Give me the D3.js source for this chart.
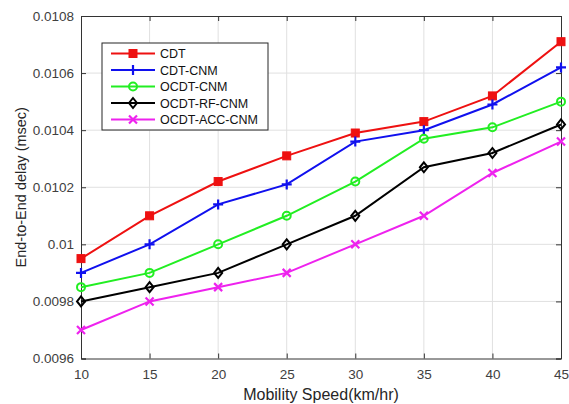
<!DOCTYPE html>
<html><head><meta charset="utf-8">
<script src="https://cdn.jsdelivr.net/npm/d3@7"></script>
<style>body{margin:0;background:#fff;} text{font-family:"Liberation Sans",Arial,sans-serif;}</style>
</head><body><svg id="c" width="569" height="404"></svg>
<script>
const speeds = [10,15,20,25,30,35,40,45];
const cdt      = [0.00995,0.0101,0.01022,0.01031,0.01039,0.01043,0.01052,0.01071];
const cdtCnm   = [0.0099,0.0100,0.01014,0.01021,0.01036,0.0104,0.01049,0.01062];
const ocdtCnm  = [0.00985,0.0099,0.0100,0.0101,0.01022,0.01037,0.01041,0.0105];
const ocdtRf   = [0.0098,0.00985,0.0099,0.0100,0.0101,0.01027,0.01032,0.01042];
const ocdtAcc  = [0.0097,0.0098,0.00985,0.0099,0.0100,0.0101,0.01025,0.01036];
const seriesNames = ["CDT","CDT-CNM","OCDT-CNM","OCDT-RF-CNM","OCDT-ACC-CNM"];
const yTicks = [0.0096,0.0098,0.01,0.0102,0.0104,0.0106,0.0108];
const yTickLabels = ["0.0096","0.0098","0.01","0.0102","0.0104","0.0106","0.0108"];

const series = [
  {name:seriesNames[0], values:cdt, color:"#ee1111", marker:"square"},
  {name:seriesNames[1], values:cdtCnm, color:"#1010ee", marker:"plus"},
  {name:seriesNames[2], values:ocdtCnm, color:"#22ee22", marker:"circle"},
  {name:seriesNames[3], values:ocdtRf, color:"#000000", marker:"diamond"},
  {name:seriesNames[4], values:ocdtAcc, color:"#ee22ee", marker:"cross"}
];

const L=81, R=561, T=16, B=358.5;
const svg = d3.select("#c");
const x = d3.scaleLinear().domain([10,45]).range([L,R]);
const y = d3.scaleLinear().domain([0.0096,0.0108]).range([B,T]);

// grid
const g = svg.append("g");
g.selectAll(".gx").data(speeds.slice(1,-1)).enter().append("line")
  .attr("x1",d=>x(d)).attr("x2",d=>x(d)).attr("y1",T).attr("y2",B)
  .attr("stroke","#e0e0e0").attr("stroke-width",1);
g.selectAll(".gy").data(yTicks.slice(1,-1)).enter().append("line")
  .attr("x1",L).attr("x2",R).attr("y1",d=>y(d)).attr("y2",d=>y(d))
  .attr("stroke","#e0e0e0").attr("stroke-width",1);

// axes
const axCol="#333";
const xAxis = d3.axisBottom(x).tickValues(speeds).tickSize(-5).tickPadding(11).tickFormat(d3.format("d"));
const yAxis = d3.axisLeft(y).tickValues(yTicks).tickSize(-5).tickPadding(7).tickFormat((d,i)=>yTickLabels[i]);
svg.append("g").attr("transform",`translate(0,${B})`).call(xAxis);
svg.append("g").attr("transform",`translate(${L},0)`).call(yAxis);
svg.append("g").attr("transform",`translate(0,${T})`).call(d3.axisTop(x).tickValues(speeds).tickSize(-5).tickFormat(""));
svg.append("g").attr("transform",`translate(${R},0)`).call(d3.axisRight(y).tickValues(yTicks).tickSize(-5).tickFormat(""));
svg.selectAll(".domain").attr("stroke",axCol);
svg.selectAll(".tick line").attr("stroke",axCol);
svg.selectAll(".tick text").attr("font-size","13.5px").attr("fill","#404040").attr("font-family","Liberation Sans, Arial, sans-serif");

// axis titles
svg.append("text").attr("x",(L+R)/2).attr("y",399.5).attr("text-anchor","middle")
  .attr("font-size","16px").attr("fill","#262626").text("Mobility Speed(km/hr)");
svg.append("text").attr("transform",`translate(26,${(T+B)/2}) rotate(-90)`).attr("text-anchor","middle")
  .attr("font-size","14.5px").attr("fill","#262626").text("End-to-End delay (msec)");

function drawMarker(sel, type, color, cx, cy){
  const s=4;
  if(type==="square") sel.append("rect").attr("x",cx-s).attr("y",cy-s).attr("width",2*s).attr("height",2*s).attr("fill",color).attr("stroke",color);
  else if(type==="plus") sel.append("path").attr("d",`M${cx-s-1},${cy}H${cx+s+1}M${cx},${cy-s-1}V${cy+s+1}`).attr("stroke",color).attr("stroke-width",2.2).attr("fill","none");
  else if(type==="circle") sel.append("circle").attr("cx",cx).attr("cy",cy).attr("r",s).attr("fill","none").attr("stroke",color).attr("stroke-width",2);
  else if(type==="diamond") sel.append("path").attr("d",`M${cx},${cy-s-1}L${cx+s},${cy}L${cx},${cy+s+1}L${cx-s},${cy}Z`).attr("fill","none").attr("stroke",color).attr("stroke-width",2);
  else if(type==="cross") sel.append("path").attr("d",`M${cx-s},${cy-s}L${cx+s},${cy+s}M${cx-s},${cy+s}L${cx+s},${cy-s}`).attr("stroke",color).attr("stroke-width",2.2).attr("fill","none");
}

const line = d3.line().x((d,i)=>x(speeds[i])).y(d=>y(d));
series.forEach(s=>{
  const sg = svg.append("g");
  sg.append("path").datum(s.values).attr("d",line).attr("fill","none").attr("stroke",s.color).attr("stroke-width",2);
  s.values.forEach((v,i)=>drawMarker(sg,s.marker,s.color,x(speeds[i]),y(v)));
});

// legend
const lg = svg.append("g");
lg.append("rect").attr("x",102).attr("y",43).attr("width",166).attr("height",87).attr("fill","#fff").attr("stroke","#262626").attr("stroke-width",1);
series.forEach((s,i)=>{
  const ly = 53.5 + i*16.5;
  lg.append("line").attr("x1",111).attr("x2",155).attr("y1",ly).attr("y2",ly).attr("stroke",s.color).attr("stroke-width",2);
  drawMarker(lg,s.marker,s.color,133,ly);
  lg.append("text").attr("x",160).attr("y",ly+4.5).attr("font-size","12.5px").attr("fill","#111").text(s.name);
});
</script></body></html>
